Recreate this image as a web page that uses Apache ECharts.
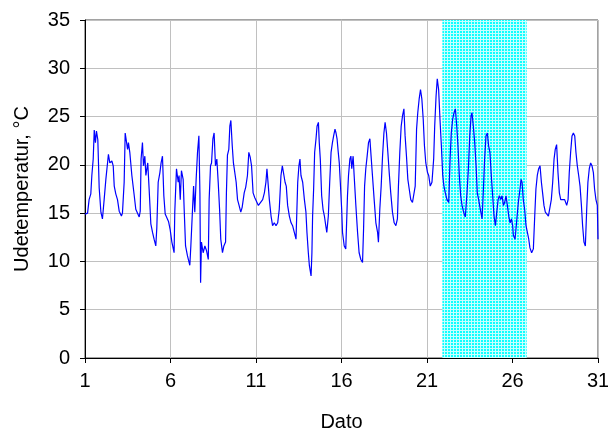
<!DOCTYPE html>
<html>
<head>
<meta charset="utf-8">
<script src="https://cdn.jsdelivr.net/npm/echarts@6/dist/echarts.min.js"></script>
<style>
html,body{margin:0;padding:0;background:#fff;}
#chart{width:608px;height:434px;}
</style>
</head>
<body>
<div id="chart"></div>
<script>
// Day of month (fractional) for each reading
const days = [
1.00,1.15,1.24,1.34,1.40,1.48,1.54,1.61,1.67,1.75,1.83,1.93,2.02,2.12,2.22,2.37,2.45,2.57,2.65,2.71,
2.80,2.90,3.00,3.13,3.19,3.29,3.35,3.43,3.49,3.54,3.62,3.74,3.88,3.97,4.07,4.17,4.23,4.28,4.36,4.42,
4.50,4.56,4.67,4.75,4.85,4.95,5.04,5.14,5.20,5.28,5.38,5.45,5.53,5.61,5.69,5.79,5.89,5.98,6.08,
6.21,6.25,6.35,6.45,6.50,6.57,6.64,6.74,6.80,6.88,6.99,7.13,7.19,7.27,7.35,7.42,7.50,7.58,7.66,7.72,
7.76,7.81,7.91,8.01,8.11,8.21,8.26,8.34,8.40,8.48,8.55,8.63,8.71,8.79,8.87,8.94,9.04,9.12,9.22,9.27,
9.33,9.41,9.47,9.53,9.61,9.68,9.76,9.84,9.92,10.01,10.11,10.19,10.31,10.40,10.50,10.58,10.66,10.74,10.83,10.93,
11.00,11.14,11.25,11.39,11.49,11.58,11.64,11.72,11.78,11.88,11.97,12.07,12.17,12.27,12.36,12.46,12.54,12.62,12.70,12.77,
12.85,12.95,13.05,13.14,13.24,13.34,13.44,13.51,13.57,13.63,13.73,13.83,13.92,13.98,14.06,14.12,14.22,14.27,14.31,14.37,
14.43,14.51,14.57,14.65,14.70,14.76,14.84,14.92,15.00,15.08,15.14,15.23,15.31,15.39,15.47,15.54,15.62,15.68,15.74,15.81,
15.87,15.93,16.01,
16.06,16.16,16.25,16.35,16.41,16.49,16.55,16.60,16.68,16.74,16.84,16.94,17.03,17.13,17.23,17.29,17.35,17.42,17.50,17.58,
17.66,17.73,17.81,17.91,18.01,18.11,18.16,18.24,18.32,18.40,18.48,18.55,18.63,18.71,18.79,18.88,18.98,19.08,19.18,19.27,
19.33,19.41,19.49,19.57,19.65,19.72,19.80,19.88,19.96,20.05,20.15,20.25,20.31,20.39,20.46,20.54,20.62,20.70,20.78,20.85,
20.93,21.03,
21.10,21.19,21.29,21.39,21.45,21.53,21.60,21.68,21.76,21.84,21.92,21.99,22.07,22.17,22.27,22.35,22.42,22.50,22.58,22.66,
22.74,22.81,22.89,22.97,23.05,23.14,23.24,23.34,23.42,23.50,23.58,23.63,23.71,23.79,23.87,23.94,24.02,24.12,24.22,24.29,
24.37,24.45,24.53,24.60,24.68,24.76,24.84,24.92,25.00,25.08,25.16,25.23,25.31,25.39,25.47,25.54,25.62,25.70,25.78,25.86,
25.94,26.01,
26.05,26.15,26.24,26.34,26.44,26.50,26.56,26.63,26.71,26.79,26.87,26.95,27.02,27.12,27.22,27.30,27.37,27.45,27.53,27.61,
27.69,27.76,27.84,27.92,28.00,28.10,28.19,28.27,28.35,28.43,28.50,28.58,28.66,28.74,28.82,28.93,29.05,29.17,29.25,29.32,
29.40,29.48,29.56,29.64,29.71,29.79,29.87,29.95,30.03,30.10,30.18,30.26,30.34,30.41,30.49,30.57,30.65,30.73,30.80,30.88,
30.96,31.00
];

// Outdoor temperature, °C
const temps = [
14.9,15.0,16.4,17.0,18.9,20.6,23.6,22.3,23.5,22.6,17.6,15.1,14.4,16.4,18.5,21.1,20.2,20.4,19.9,17.8,
17.0,16.4,15.2,14.7,15.0,18.2,23.3,23.5,21.6,22.3,21.3,18.9,16.8,15.4,15.4,14.6,15.2,20.6,22.3,19.9,
20.9,18.9,20.2,17.5,13.9,13.0,12.3,11.6,13.5,18.2,19.2,20.2,20.9,16.8,14.9,14.9,14.1,13.3,12.0,
10.9,15.1,19.6,18.2,18.9,16.4,19.4,18.5,15.4,11.6,10.6,9.6,11.6,14.7,17.8,15.1,18.5,21.3,23.0,17.1,
7.8,12.0,10.9,11.6,11.1,10.2,16.4,19.9,20.2,22.7,23.3,19.9,20.6,18.2,15.4,12.3,10.9,11.6,12.0,17.1,
21.0,21.6,24.0,24.6,22.0,20.2,20.1,18.2,16.4,15.8,15.1,15.6,17.1,17.7,18.9,21.3,20.8,19.9,17.1,16.6,
16.8,15.8,15.9,16.4,17.1,18.2,19.6,17.8,16.4,14.7,13.7,14.0,13.7,14.0,15.4,18.9,19.9,19.7,18.2,17.8,
15.8,14.7,14.0,13.7,13.0,12.3,18.2,19.9,20.6,18.9,18.2,16.4,15.1,13.0,10.9,9.6,8.5,10.9,14.7,17.5,
21.3,22.7,24.0,24.4,22.3,20.6,16.8,15.4,14.7,13.7,13.0,14.7,18.2,21.3,22.3,23.0,23.7,23.3,22.7,21.3,
20.2,18.2,15.4,
13.0,11.6,11.3,16.8,18.9,20.6,20.9,19.6,20.9,18.9,15.8,13.0,10.9,10.2,9.9,13.3,17.8,19.6,20.9,22.3,
22.7,20.9,18.9,16.4,14.0,13.0,12.0,15.4,17.8,20.9,23.3,24.4,23.3,21.3,19.2,17.1,15.1,14.0,13.7,14.4,
17.8,21.3,24.0,25.1,25.8,23.0,20.9,18.5,17.5,16.4,16.1,16.1,17.8,23.7,25.4,26.8,27.8,26.8,24.7,22.0,
20.2,19.2,
18.9,17.8,18.2,20.6,24.0,27.1,28.9,27.8,24.7,22.0,18.9,17.8,17.1,16.4,16.1,20.6,23.3,24.7,25.4,25.8,
24.0,22.0,18.9,16.8,15.8,15.1,14.6,17.1,19.6,23.0,25.1,25.4,24.0,22.3,19.9,17.1,16.4,15.4,14.4,17.1,
20.6,23.0,23.3,22.0,21.3,18.9,16.8,14.7,13.7,15.1,16.4,16.8,16.4,16.8,15.8,16.1,16.8,15.8,14.7,14.0,
14.4,13.7,
12.7,12.3,12.3,16.1,17.5,18.5,18.2,16.4,15.4,13.7,13.0,12.3,11.4,10.9,11.3,14.7,17.5,18.9,19.6,19.9,
18.2,17.1,15.8,15.1,14.9,14.7,14.6,16.4,18.2,20.6,21.6,22.1,19.2,17.1,16.4,16.4,16.4,15.8,16.4,19.2,
21.3,23.0,23.3,23.0,21.3,19.9,18.9,17.8,15.8,13.7,12.0,11.6,15.4,18.2,19.6,20.2,19.9,19.2,17.5,16.4,
15.8,12.3
];

// Highlighted period (day range)
const bandStart = 21.9;
const bandEnd = 26.83;

// Axis settings
const xTicks = {min: 1, max: 31, step: 5};
const yTicks = {min: 0, max: 35, step: 5};

const n = Math.min(days.length, temps.length);
const seriesData = [];
for (let i = 0; i < n; i++) seriesData.push([days[i], temps[i]]);

// Cyan grid-pattern fill for the band
const pc = document.createElement('canvas');
pc.width = 3; pc.height = 3;
const pctx = pc.getContext('2d');
pctx.fillStyle = '#10ffff';
pctx.fillRect(0, 0, 3, 3);
pctx.fillStyle = '#c8ffff';
pctx.fillRect(0, 0, 3, 1);
pctx.fillRect(0, 0, 1, 3);

const FONT = 'Liberation Sans, Arial, sans-serif';
const FS = 20;
const chart = echarts.init(document.getElementById('chart'), null, {renderer: 'canvas'});
chart.setOption({
  animation: false,
  backgroundColor: '#ffffff',
  grid: {
    left: 85, right: 10, top: 20, bottom: 76,
    containLabel: false, outerBoundsMode: 'none',
    show: true, borderColor: '#444444', borderWidth: 1, backgroundColor: '#ffffff'
  },
  xAxis: {
    type: 'value', min: xTicks.min, max: xTicks.max, interval: xTicks.step,
    name: 'Dato', nameLocation: 'middle', nameGap: 54,
    nameTextStyle: {fontFamily: FONT, fontSize: FS, color: '#000'},
    axisLine: {show: true, onZero: false, lineStyle: {color: '#000', width: 1}},
    axisTick: {show: true, inside: false, length: 5, lineStyle: {color: '#000'}},
    axisLabel: {fontFamily: FONT, fontSize: FS, color: '#000', margin: 13},
    splitLine: {show: true, lineStyle: {color: '#c0c0c0', width: 1}}
  },
  yAxis: {
    type: 'value', min: yTicks.min, max: yTicks.max, interval: yTicks.step,
    name: 'Udetemperatur, °C', nameLocation: 'middle', nameGap: 53, nameRotate: 90,
    nameTextStyle: {fontFamily: FONT, fontSize: FS, color: '#000'},
    axisLine: {show: true, lineStyle: {color: '#000', width: 1}},
    axisTick: {show: true, inside: false, length: 5, lineStyle: {color: '#000'}},
    axisLabel: {fontFamily: FONT, fontSize: FS, color: '#000', margin: 15},
    splitLine: {show: true, lineStyle: {color: '#c0c0c0', width: 1}}
  },
  series: [{
    type: 'line',
    data: seriesData,
    showSymbol: false,
    symbol: 'none',
    lineStyle: {color: '#0000ff', width: 1.2},
    itemStyle: {color: '#0000ff'},
    z: 3,
    markArea: {
      silent: true,
      itemStyle: {color: {image: pc, repeat: 'repeat'}, opacity: 1},
      data: [[{xAxis: bandStart}, {xAxis: bandEnd}]]
    }
  }]
});
</script>
</body>
</html>
